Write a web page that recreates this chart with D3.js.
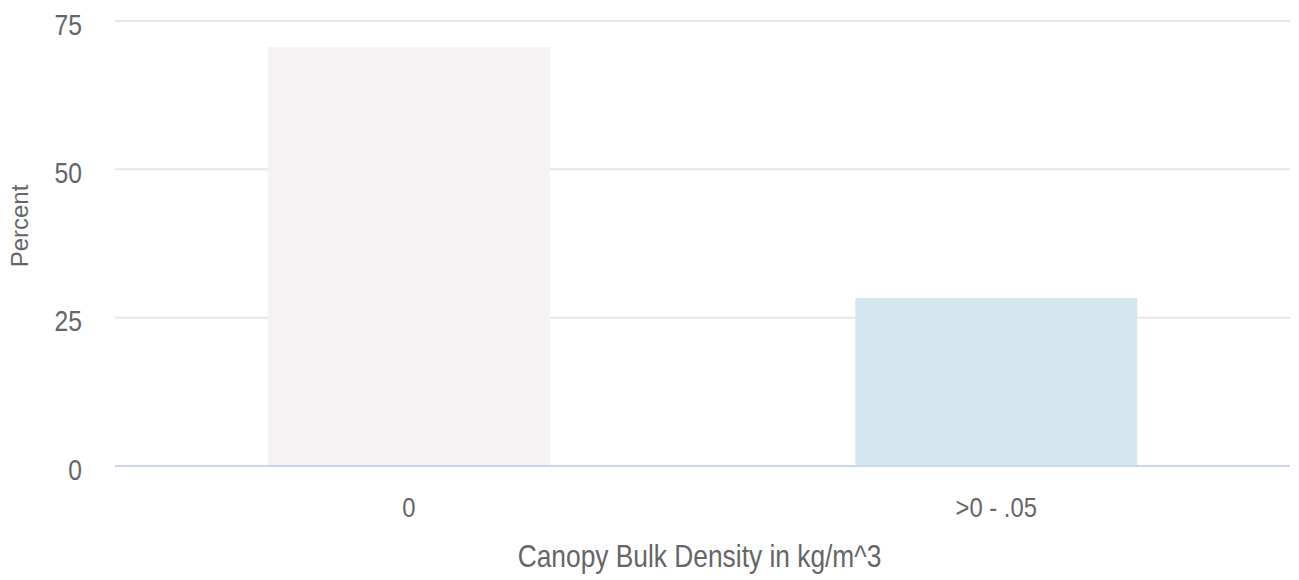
<!DOCTYPE html>
<html>
<head>
<meta charset="utf-8">
<script src="https://cdn.jsdelivr.net/npm/d3@7"></script>
<style>
  html, body { margin: 0; padding: 0; background: #fff; }
  svg { display: block; }
  text { font-family: "Liberation Sans", Arial, sans-serif; fill: #666; }
</style>
</head>
<body>
<svg id="chart" width="1299" height="580"></svg>
<script>
// Share of area by canopy bulk density class
const categories = ["0", ">0 - .05"];
const percents = [70.6, 28.3];
const barColors = ["#f4f2f3", "#d6e6ef"];
const yTicks = [0, 25, 50, 75];

// horizontal squeeze used to give labels a narrow face
const narrow = 0.85;

const svg = d3.select("#chart");
const margin = { top: 21, right: 9, bottom: 114, left: 115 };
const width = 1299 - margin.left - margin.right;
const height = 580 - margin.top - margin.bottom;

const x = d3.scaleBand().domain(categories).range([0, width]).paddingInner(0.52).paddingOuter(0.26);
const y = d3.scaleLinear().domain([0, 75]).range([height, 0]);

const g = svg.append("g").attr("transform", `translate(${margin.left},${margin.top})`);

// horizontal grid lines
g.selectAll("line.grid").data(yTicks.filter(t => t > 0)).join("line")
  .attr("class", "grid")
  .attr("x1", 0).attr("x2", width)
  .attr("y1", d => y(d)).attr("y2", d => y(d))
  .attr("stroke", "#e6e6e6").attr("stroke-width", 2);

// bars
g.selectAll("rect.bar").data(percents).join("rect")
  .attr("class", "bar")
  .attr("x", (d, i) => x(categories[i]))
  .attr("y", d => y(d))
  .attr("width", x.bandwidth())
  .attr("height", d => y(0) - y(d))
  .attr("fill", (d, i) => barColors[i]);

// baseline
g.append("line")
  .attr("x1", 0).attr("x2", width)
  .attr("y1", y(0)).attr("y2", y(0))
  .attr("stroke", "#ccd6eb").attr("stroke-width", 2);

// y axis labels
const yPad = 33;
const yAxis = d3.axisLeft(y).tickValues(yTicks).tickSize(0).tickPadding(yPad);
g.append("g").call(yAxis)
  .call(a => a.select(".domain").remove())
  .selectAll("text")
  .style("font-size", "29px")
  .attr("x", -yPad / narrow)
  .attr("dy", "0.45em")
  .attr("transform", `scale(${narrow},1)`);

// x axis labels
const xAxis = d3.axisBottom(x).tickSize(0).tickPadding(31);
g.append("g").attr("transform", `translate(0,${height})`).call(xAxis)
  .call(a => a.select(".domain").remove())
  .selectAll("text")
  .style("font-size", "28px")
  .attr("transform", `scale(${narrow},1)`);

// axis titles
svg.append("text")
  .attr("transform", `translate(${margin.left + width / 2 - 3},567) scale(${narrow},1)`)
  .attr("text-anchor", "middle")
  .style("font-size", "31px")
  .text("Canopy Bulk Density in kg/m^3");

svg.append("text")
  .attr("transform", `translate(28,226) rotate(-90)`)
  .attr("text-anchor", "middle")
  .style("font-size", "24px")
  .text("Percent");
</script>
</body>
</html>
